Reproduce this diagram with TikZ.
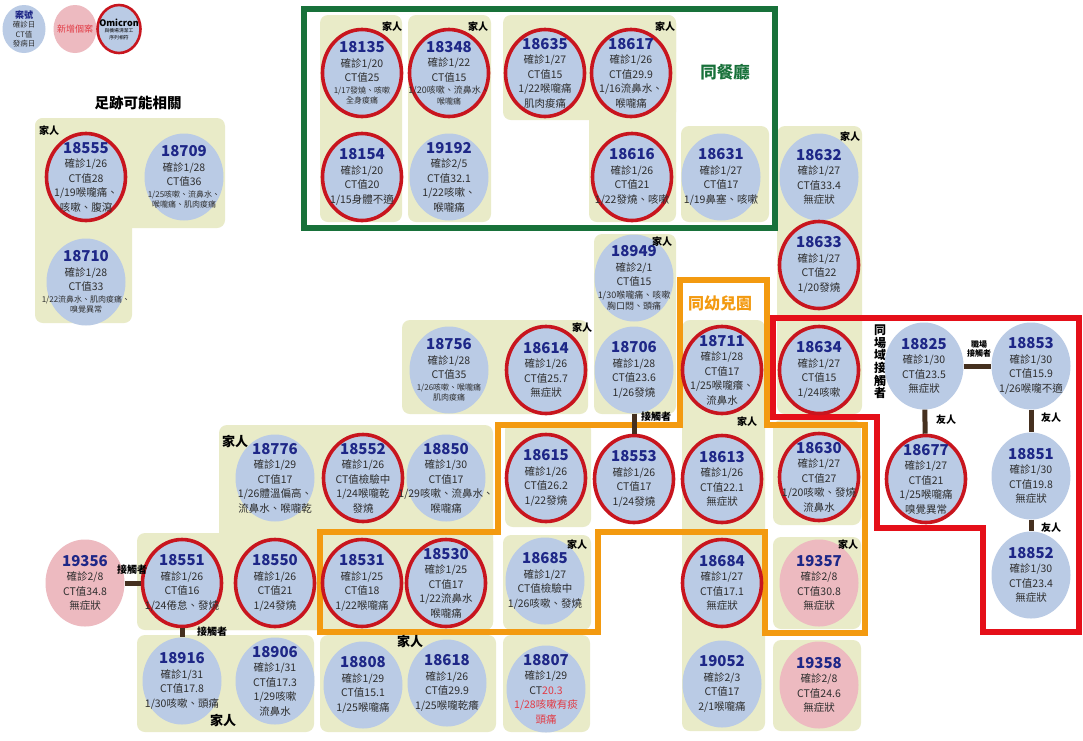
\documentclass[tikz,border=0pt]{standalone}
\usepackage{fontspec}
\setmainfont{Noto Sans CJK TC}
\usetikzlibrary{shapes.geometric}
\definecolor{cbeige}{HTML}{E9EBC8}
\definecolor{cblue}{HTML}{BACBE5}
\definecolor{cpink}{HTML}{EDBAC0}
\definecolor{cred}{HTML}{C8151E}
\definecolor{cnum}{HTML}{1E2787}
\definecolor{corange}{HTML}{F39A10}
\definecolor{cgreen}{HTML}{18713A}
\definecolor{cframe}{HTML}{E50F19}
\definecolor{cbrown}{HTML}{45301F}
\definecolor{ctxt}{HTML}{2E2E2E}
\definecolor{credtxt}{HTML}{E23A44}
\newcommand\numf{\fontsize{15}{16}\selectfont\bfseries\color{cnum}}
\newcommand\smf{\fontsize{8}{10}\selectfont}
\newcommand\smm{\fontsize{9}{11}\selectfont}
\newcommand\cas[4]{\node[#1] (n#2) at (#3) {};\node[ctext] (t#2) at (#3) {{\numf #2}\\#4};}
\begin{document}
\begin{tikzpicture}[x=1pt,y=-1pt,
 cbase/.style={ellipse, minimum width=79pt, minimum height=87pt, inner sep=0pt},
 bc/.style={cbase, fill=cblue},
 rc/.style={cbase, fill=cblue, draw=cred, line width=3.6pt},
 pc/.style={cbase, fill=cpink},
 ctext/.style={align=center, inner sep=0pt, text=ctxt, font=\fontsize{10.5}{14.5}\selectfont},
 bgbox/.style={fill=cbeige, rounded corners=8pt},
 conn/.style={draw=cbrown, line width=5pt},
 lab/.style={font=\fontsize{10}{11}\selectfont\bfseries, inner sep=0pt, text=black},
 labL/.style={font=\fontsize{13}{14}\selectfont\bfseries, inner sep=0pt, text=black},
 frameO/.style={draw=corange, line width=6pt},
 frameR/.style={draw=cframe, line width=6pt},
 frameG/.style={draw=cgreen, line width=6pt},
 legc/.style={ellipse, minimum width=43pt, minimum height=48pt, inner sep=0pt},
]
\fill[white] (0,0) rectangle (1083,740);
\useasboundingbox (0,0) rectangle (1083,740);

% beige groups
\fill[bgbox] (35,118) rectangle (225,228);
\fill[bgbox] (35,118) rectangle (132,323);
\fill[bgbox] (320,15) rectangle (402,222);
\fill[bgbox] (408,15) rectangle (491,222);
\fill[bgbox] (503,15) rectangle (676,120);
\fill[bgbox] (589,15) rectangle (676,222);
\fill[bgbox] (681,126) rectangle (769,222);
\fill[bgbox] (777,126) rectangle (862,414);
\fill[bgbox] (594,234) rectangle (676,414);
\fill[bgbox] (402,320) rectangle (588,414);
\fill[bgbox] (682,320) rectangle (765,731);
\fill[bgbox] (773,420) rectangle (861,525);
\fill[bgbox] (773,537) rectangle (861,629);
\fill[bgbox] (773,640) rectangle (861,731);
\fill[bgbox] (219,425) rectangle (493,630);
\fill[bgbox] (137,533) rectangle (493,630);
\fill[bgbox] (505,422) rectangle (591,527);
\fill[bgbox] (503,535) rectangle (591,630);
\fill[bgbox] (137,635) rectangle (314,732);
\fill[bgbox] (320,635) rectangle (496,732);
\fill[bgbox] (503,635) rectangle (590,732);

% frames
\draw[frameG] (304,9) rectangle (775,228);
\draw[frameO] (680,280) -- (767,280) -- (767,425) -- (865,425) -- (865,633) -- (765,633) -- (765,532) -- (598,532) -- (598,632) -- (320,632) -- (320,532) -- (498,532) -- (498,425) -- (680,425) -- cycle;
\draw[frameR] (773,318) -- (1079,318) -- (1079,632) -- (983,632) -- (983,528) -- (877,528) -- (877,417) -- (773,417) -- cycle;

% titles
\node[font=\fontsize{14.5}{16}\selectfont\bfseries, inner sep=0pt] (ttl1) at (138,103) {足跡可能相關};
\node[font=\fontsize{16.5}{18}\selectfont\bfseries, text=cgreen, inner sep=0pt] (ttl2) at (725,72) {同餐廳};
\node[font=\fontsize{16}{18}\selectfont\bfseries, text=corange, inner sep=0pt] (ttl3) at (720,303) {同幼兒園};
\node[font=\fontsize{12}{12.6}\selectfont\bfseries, align=center, inner sep=0pt] (ttl4) at (880,362) {同\\場\\域\\接\\觸\\者};

% legend
\node[legc, fill=cblue] (lg1) at (24,29) {};
\node[align=center, inner sep=0pt, text=ctxt, font=\fontsize{7.5}{9.5}\selectfont] (lg1t) at (24,29) {{\color{cnum}\bfseries\fontsize{9}{9.5}\selectfont 案號}\\確診日\\CT值\\發病日};
\node[legc, fill=cpink] (lg2) at (75,29) {};
\node[inner sep=0pt, text=credtxt, font=\fontsize{9}{10}\selectfont] (lg2t) at (75,29) {新增個案};
\node[legc, fill=cblue, draw=cred, line width=2.6pt] (lg3) at (119,29) {};
\node[align=center, inner sep=0pt, font=\fontsize{4.8}{6.5}\selectfont] (lg3t) at (119,29) {{\bfseries\fontsize{9}{9.5}\selectfont Omicron}\\與機場清潔工\\序列相符};

% cases: top cluster
\cas{rc}{18135}{362,73}{確診1/20\\CT值25\\[-3pt]{\smf 1/17發燒、咳嗽}\\[-4pt]{\smf 全身痠痛}}
\cas{rc}{18348}{449,73}{確診1/22\\CT值15\\[-2pt]{\smm 1/20咳嗽、流鼻水、}\\[-4pt]{\smf 喉嚨痛}}
\cas{rc}{18635}{545,73}{確診1/27\\CT值15\\1/22喉嚨痛\\肌肉痠痛}
\cas{rc}{18617}{631,73}{確診1/26\\CT值29.9\\1/16流鼻水、\\喉嚨痛}
\cas{rc}{18154}{362,177}{確診1/20\\CT值20\\1/15身體不適}
\cas{bc}{19192}{449,177}{確診2/5\\CT值32.1\\1/22咳嗽、\\喉嚨痛}
\cas{rc}{18616}{632,177}{確診1/26\\CT值21\\1/22發燒、咳嗽}
\cas{bc}{18631}{721,177}{確診1/27\\CT值17\\1/19鼻塞、咳嗽}
\cas{bc}{18632}{819,177}{確診1/27\\CT值33.4\\無症狀}
\cas{rc}{18633}{819,265}{確診1/27\\CT值22\\1/20發燒}

% left cluster
\cas{rc}{18555}{86,177}{確診1/26\\CT值28\\1/19喉嚨痛、\\咳嗽、腹瀉}
\cas{bc}{18709}{184,177}{確診1/28\\CT值36\\[-3pt]{\smf 1/25咳嗽、流鼻水、}\\[-4pt]{\smf 喉嚨痛、肌肉痠痛}}
\cas{bc}{18710}{86,282}{確診1/28\\CT值33\\[-3pt]{\smf 1/22流鼻水、肌肉痠痛、}\\[-4pt]{\smf 嗅覺異常}}

% middle
\cas{bc}{18949}{634,278}{確診2/1\\CT值15\\[-2pt]{\smm 1/30喉嚨痛、咳嗽}\\[-3pt]{\smm 胸口悶、頭痛}}
\cas{bc}{18756}{449,370}{確診1/28\\CT值35\\[-3pt]{\smf 1/26咳嗽、喉嚨痛}\\[-4pt]{\smf 肌肉痠痛}}
\cas{rc}{18614}{546,370}{確診1/26\\CT值25.7\\無症狀}
\cas{bc}{18706}{634,370}{確診1/28\\CT值23.6\\1/26發燒}
\cas{rc}{18711}{722,370}{確診1/28\\CT值17\\1/25喉嚨癢、\\流鼻水}
\cas{rc}{18634}{819,370}{確診1/27\\CT值15\\1/24咳嗽}

% right red cluster
\cas{bc}{18825}{924,366}{確診1/30\\CT值23.5\\無症狀}
\cas{bc}{18853}{1031,366}{確診1/30\\CT值15.9\\1/26喉嚨不適}
\cas{rc}{18677}{926,479}{確診1/27\\CT值21\\1/25喉嚨痛\\嗅覺異常}
\cas{bc}{18851}{1031,476}{確診1/30\\CT值19.8\\無症狀}
\cas{bc}{18852}{1031,575}{確診1/30\\CT值23.4\\無症狀}

% right columns
\cas{rc}{18630}{819,477}{確診1/27\\CT值27\\1/20咳嗽、發燒\\流鼻水}
\cas{pc}{19357}{819,583}{確診2/8\\CT值30.8\\無症狀}
\cas{pc}{19358}{819,685}{確診2/8\\CT值24.6\\無症狀}
\cas{rc}{18613}{722,479}{確診1/26\\CT值22.1\\無症狀}
\cas{rc}{18684}{722,583}{確診1/27\\CT值17.1\\無症狀}
\cas{bc}{19052}{722,684}{確診2/3\\CT值17\\2/1喉嚨痛}
\cas{rc}{18553}{634,479}{確診1/26\\CT值17\\1/24發燒}
\cas{rc}{18615}{546,478}{確診1/26\\CT值26.2\\1/22發燒}

% lower left cluster
\cas{bc}{18776}{275,478}{確診1/29\\CT值17\\1/26體溫偏高、\\流鼻水、喉嚨乾}
\cas{rc}{18552}{363,478}{確診1/26\\CT值檢驗中\\1/24喉嚨乾\\發燒}
\cas{bc}{18850}{446,478}{確診1/30\\CT值17\\1/29咳嗽、流鼻水、\\喉嚨痛}
\cas{pc}{19356}{85,583}{確診2/8\\CT值34.8\\無症狀}
\cas{rc}{18551}{182,583}{確診1/26\\CT值16\\1/24倦怠、發燒}
\cas{rc}{18550}{275,583}{確診1/26\\CT值21\\1/24發燒}
\cas{rc}{18531}{362,583}{確診1/25\\CT值18\\1/22喉嚨痛}
\cas{rc}{18530}{446,583}{確診1/25\\CT值17\\1/22流鼻水\\喉嚨痛}
\cas{bc}{18685}{545,581}{確診1/27\\CT值檢驗中\\1/26咳嗽、發燒}
\cas{bc}{18916}{182,681}{確診1/31\\CT值17.8\\1/30咳嗽、頭痛}
\cas{bc}{18906}{275,681}{確診1/31\\CT值17.3\\1/29咳嗽\\流鼻水}
\cas{bc}{18808}{363,685}{確診1/29\\CT值15.1\\1/25喉嚨痛}
\cas{bc}{18618}{447,683}{確診1/26\\CT值29.9\\1/25喉嚨乾癢}
\cas{bc}{18807}{546,689}{確診1/29\\CT{\color{credtxt}20.3}\\{\color{credtxt}1/28咳嗽有痰}\\{\color{credtxt}頭痛}}

% connectors
\draw[conn] (n19356) -- (n18551);
\draw[conn] (n18551) -- (n18916);
\draw[conn] (n18706) -- (n18553);
\draw[conn] (n18825) -- (n18853);
\draw[conn] (n18825) -- (n18677);
\draw[conn] (n18853) -- (n18851);
\draw[conn] (n18851) -- (n18852);

% relation labels
\node[lab] (r1) at (132,570) {接觸者};
\node[lab] (r2) at (212,632) {接觸者};
\node[lab] (r3) at (656,417) {接觸者};
\node[lab, align=center, font=\fontsize{8}{9}\selectfont\bfseries] (r4) at (979,349) {職場\\接觸者};
\node[lab] (r5) at (946,420) {友人};
\node[lab] (r6) at (1051,418) {友人};
\node[lab] (r7) at (1051,528) {友人};

% family labels
\node[lab] (f1) at (392,27) {家人};
\node[lab] (f2) at (478,27) {家人};
\node[lab] (f3) at (665,27) {家人};
\node[lab] (f4) at (850,137) {家人};
\node[lab] (f5) at (662,242) {家人};
\node[lab] (f6) at (582,328) {家人};
\node[lab] (f7) at (747,422) {家人};
\node[labL] (f8) at (235,441) {家人};
\node[lab] (f9) at (577,545) {家人};
\node[lab] (f10) at (848,545) {家人};
\node[labL] (f11) at (410,641) {家人};
\node[labL] (f12) at (223,720) {家人};
\node[lab] (f13) at (49,131) {家人};
\end{tikzpicture}
\end{document}
